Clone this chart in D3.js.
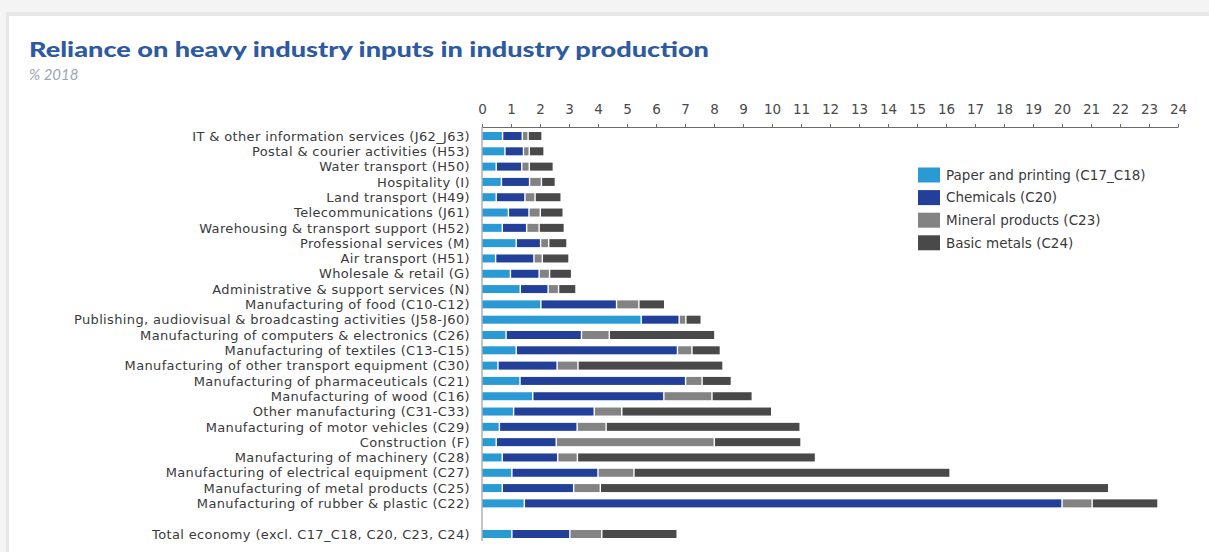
<!DOCTYPE html>
<html>
<head>
<meta charset="utf-8">
<script src="https://cdn.jsdelivr.net/npm/d3@7"></script>
<style>
  html, body { margin: 0; padding: 0; background: #f3f3f3; }
  svg { display: block; }
</style>
</head>
<body>
<svg id="chart" width="1209" height="552"></svg>
<script>
// Industries, top to bottom
const categories = [
  "IT & other information services (J62_J63)",
  "Postal & courier activities  (H53)",
  "Water transport (H50)",
  "Hospitality (I)",
  "Land transport (H49)",
  "Telecommunications (J61)",
  "Warehousing & transport support (H52)",
  "Professional services (M)",
  "Air transport (H51)",
  "Wholesale & retail (G)",
  "Administrative & support services (N)",
  "Manufacturing of food (C10-C12)",
  "Publishing, audiovisual & broadcasting activities (J58-J60)",
  "Manufacturing of computers & electronics (C26)",
  "Manufacturing of textiles (C13-C15)",
  "Manufacturing of other transport equipment (C30)",
  "Manufacturing of pharmaceuticals (C21)",
  "Manufacturing of wood (C16)",
  "Other manufacturing (C31-C33)",
  "Manufacturing of motor vehicles (C29)",
  "Construction (F)",
  "Manufacturing of machinery (C28)",
  "Manufacturing of electrical equipment (C27)",
  "Manufacturing of metal products (C25)",
  "Manufacturing of rubber & plastic (C22)",
  "Total economy (excl. C17_C18, C20, C23, C24)"
];

// Share of each input, % of production, 2018
const paper     = [0.71, 0.79, 0.49, 0.67, 0.49, 0.91, 0.70, 1.18, 0.47, 0.98, 1.32, 2.03, 5.49, 0.83, 1.18, 0.55, 1.31, 1.75, 1.09, 0.60, 0.49, 0.70, 1.03, 0.70, 1.46, 1.03];
const chemicals = [0.68, 0.64, 0.88, 0.97, 0.99, 0.71, 0.84, 0.84, 1.32, 0.99, 0.96, 2.61, 1.31, 2.60, 5.56, 2.04, 5.71, 4.52, 2.78, 2.68, 2.07, 1.91, 2.97, 2.46, 18.54, 2.00];
const minerals  = [0.20, 0.20, 0.26, 0.41, 0.35, 0.39, 0.43, 0.28, 0.29, 0.36, 0.36, 0.77, 0.23, 0.96, 0.50, 0.72, 0.57, 1.66, 0.95, 1.00, 5.45, 0.68, 1.24, 0.92, 1.04, 1.10];
const metals    = [0.48, 0.51, 0.83, 0.48, 0.90, 0.79, 0.87, 0.63, 0.92, 0.76, 0.60, 0.89, 0.53, 3.64, 0.98, 5.00, 1.01, 1.39, 5.17, 6.69, 2.99, 8.21, 10.90, 17.53, 2.27, 2.60];

const seriesNames = ["Paper and printing (C17_C18)", "Chemicals (C20)", "Mineral products (C23)", "Basic metals (C24)"];
const seriesColors = ["#2a9ad4", "#22409a", "#838383", "#494949"];
const xTicks = d3.range(0, 25);

const labelFont = "'DejaVu Sans', sans-serif";
const svg = d3.select("#chart");

// Width of a string at a given size
function measure(sample, size, family) {
  const probe = svg.append("text")
    .attr("font-family", family).attr("font-size", size).text(sample);
  const w = probe.node().getComputedTextLength();
  probe.remove();
  return w;
}

// Card background with a soft edge on top and left
svg.append("rect").attr("x", 0).attr("y", 0).attr("width", 1209).attr("height", 552).attr("fill", "#f4f4f4");
svg.append("rect").attr("x", 6).attr("y", 12).attr("width", 1203).attr("height", 540).attr("fill", "#e7e7e7");
svg.append("rect").attr("x", 9).attr("y", 16).attr("width", 1200).attr("height", 536).attr("fill", "#ffffff");

// Title and subtitle
svg.append("text")
  .attr("x", 29).attr("y", 57)
  .attr("fill", "#2d5aa0")
  .attr("font-family", "Lato, 'Open Sans', sans-serif")
  .attr("font-weight", 900)
  .attr("font-size", 21.5)
  .attr("textLength", 680)
  .attr("lengthAdjust", "spacingAndGlyphs")
  .text("Reliance on heavy industry inputs in industry production");

svg.append("text")
  .attr("x", 29).attr("y", 80)
  .attr("fill", "#9aa5b8")
  .attr("font-family", "Lato, 'Open Sans', sans-serif")
  .attr("font-style", "italic")
  .attr("font-size", 15)
  .text("% 2018");

// Scales
const x = d3.scaleLinear().domain([0, 24]).range([482, 1178]);
const rowKeys = categories.slice(0, 25).concat(["__gap__"], categories.slice(25));
const y = d3.scalePoint().domain(rowKeys).range([136, 534]);
const barH = 8;

// Labels stay at 13px so rows do not collide; a little letter spacing widens them
const labelSize = 13;
const labelSpacing = 0.8 * Math.max(0, (281 - measure(categories[0], labelSize, labelFont)) / (categories[0].length - 1));
const legendSize = 13.5;

// Stacked data
const rows = categories.map((c, i) => ({ cat: c, vals: [paper[i], chemicals[i], minerals[i], metals[i]] }));
const segs = [];
rows.forEach(r => {
  let acc = 0;
  r.vals.forEach((v, k) => {
    segs.push({ cat: r.cat, k, x0: acc, x1: acc + v });
    acc += v;
  });
});

// Top axis
const axisG = svg.append("g")
  .attr("transform", "translate(0,127)")
  .call(d3.axisTop(x).tickValues(xTicks).tickSize(3).tickSizeOuter(0).tickPadding(10));
axisG.select(".domain").attr("stroke", "#6b6b6b").attr("stroke-width", 1);
axisG.selectAll(".tick line").attr("stroke", "#6b6b6b");
axisG.selectAll(".tick text")
  .attr("fill", "#4a4a4a")
  .attr("font-family", labelFont)
  .attr("font-size", 13.5);

// Vertical baseline at zero
svg.append("line")
  .attr("x1", x(0)).attr("x2", x(0))
  .attr("y1", 127).attr("y2", 541)
  .attr("stroke", "#8a8a8a").attr("stroke-width", 1);

// Bars
svg.append("g").selectAll("rect")
  .data(segs)
  .join("rect")
  .attr("x", d => x(d.x0) + (d.k === 0 ? 0.5 : 0.7))
  .attr("y", d => y(d.cat) - barH / 2)
  .attr("width", d => Math.max(0, x(d.x1) - x(d.x0) - (d.k === 0 ? 1.2 : 1.4)))
  .attr("height", barH)
  .attr("fill", d => seriesColors[d.k]);

// Category labels
svg.append("g").selectAll("text")
  .data(categories)
  .join("text")
  .attr("x", 470)
  .attr("y", d => y(d))
  .attr("dy", "0.36em")
  .attr("text-anchor", "end")
  .attr("fill", "#3a3a3a")
  .attr("font-family", labelFont)
  .attr("font-size", labelSize)
  .attr("letter-spacing", labelSpacing.toFixed(2))
  .text(d => d);

// Legend
const legend = svg.append("g").selectAll("g")
  .data(seriesNames)
  .join("g")
  .attr("transform", (d, i) => `translate(918, ${175 + i * 22.6})`);
legend.append("rect")
  .attr("x", 0).attr("y", -7.5)
  .attr("width", 22).attr("height", 15)
  .attr("fill", (d, i) => seriesColors[i]);
legend.append("text")
  .attr("x", 28).attr("y", 0).attr("dy", "0.36em")
  .attr("fill", "#3a3a3a")
  .attr("font-family", labelFont)
  .attr("font-size", legendSize)
  .text(d => d);
</script>
</body>
</html>
